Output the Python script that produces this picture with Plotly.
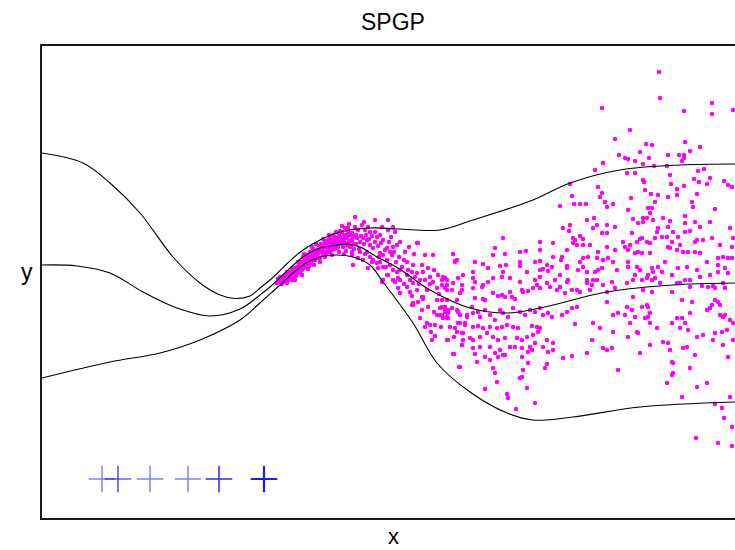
import plotly.graph_objects as go

# ---------------- data (arbitrary units, no ticks shown) ----------------
# predictive mean and +/- 2 std curves
curve_x_upper = [0.00, 0.41, 0.68, 0.98, 1.31, 1.58, 1.78, 1.93, 2.08, 2.18, 2.28, 2.61, 2.95, 3.28, 3.56,
                 3.98, 4.31, 4.91, 5.28, 5.78, 6.38, 6.93]
curve_y_upper = [1.29, 1.19, 0.99, 0.69, 0.25, -0.01, -0.13, -0.165, -0.14, -0.06, 0.02, 0.32, 0.49, 0.54, 0.53,
                 0.52, 0.62, 0.82, 0.99, 1.12, 1.17, 1.18]

curve_x_mean = [0.00, 0.35, 0.68, 1.01, 1.35, 1.68, 1.98, 2.18, 2.28, 2.61, 2.78, 2.95, 3.05, 3.18, 3.35,
                3.56, 3.88, 4.28, 4.65, 4.98, 5.65, 6.31, 6.93]
curve_y_mean = [0.17, 0.16, 0.09, -0.10, -0.26, -0.34, -0.27, -0.13, -0.05, 0.25, 0.34, 0.37, 0.38, 0.35, 0.25,
                0.14, -0.08, -0.26, -0.31, -0.26, -0.10, -0.03, -0.01]

curve_x_lower = [0.00, 0.68, 1.18, 1.58, 1.98, 2.18, 2.38, 2.61, 2.78, 2.95, 3.11, 3.28, 3.41, 3.71, 3.95,
                 4.28, 4.65, 4.91, 5.31, 5.98, 6.93]
curve_y_lower = [-0.96, -0.80, -0.71, -0.58, -0.38, -0.21, -0.03, 0.17, 0.25, 0.27, 0.25, 0.17, 0.00, -0.41, -0.81,
                 -1.10, -1.31, -1.38, -1.35, -1.25, -1.20]

# pseudo-input locations (blue crosses) and their shading
pseudo_x = [0.60, 0.76, 1.08, 1.46, 1.77, 2.22]
pseudo_y = [-1.97, -1.97, -1.97, -1.97, -1.97, -1.97]
pseudo_color = ["rgba(0,0,255,0.5)", "rgba(0,0,255,0.9)", "rgba(0,0,255,0.5)",
                "rgba(0,0,255,0.5)", "rgba(0,0,255,0.85)", "rgba(0,0,255,0.9)"]
pseudo_lw = [1.5, 1.2, 1.5, 1.5, 1.5, 2.2]

# observed training data (magenta dots)
observations = [
    (2.35, -0.01), (2.38, 0.02), (2.41, 0.05), (2.45, 0.07), (2.48, 0.10), (2.51, 0.12), (2.55, 0.15), (2.58, 0.19),
    (2.61, 0.20), (2.65, 0.24), (2.66, 0.27), (2.68, 0.30), (2.71, 0.29), (2.75, 0.32), (2.78, 0.34), (2.81, 0.37),
    (2.85, 0.39), (2.88, 0.40), (2.91, 0.42), (2.95, 0.44), (2.98, 0.45), (3.00, 0.50), (3.03, 0.54), (3.06, 0.54),
    (3.08, 0.47), (3.10, 0.42), (3.13, 0.65), (3.05, 0.37), (3.01, 0.35), (2.95, 0.34), (2.90, 0.32), (2.85, 0.30),
    (2.81, 0.27), (2.76, 0.24), (2.71, 0.22), (2.68, 0.19), (2.63, 0.15), (2.60, 0.12), (2.55, 0.09), (2.50, 0.05),
    (2.46, 0.02), (2.43, 0.00), (2.40, -0.02),
    (2.37, 0.00), (2.39, 0.04), (2.42, 0.03), (2.44, 0.06), (2.47, 0.04), (2.49, 0.08), (2.52, 0.09), (2.53, 0.14),
    (2.56, 0.12), (2.57, 0.17), (2.59, 0.15), (2.62, 0.18), (2.63, 0.22), (2.64, 0.19), (2.66, 0.21), (2.67, 0.25),
    (2.69, 0.23), (2.70, 0.27), (2.72, 0.25), (2.73, 0.31), (2.74, 0.28), (2.76, 0.29), (2.77, 0.36), (2.79, 0.31),
    (2.80, 0.33), (2.82, 0.34), (2.83, 0.40), (2.84, 0.36), (2.86, 0.35), (2.87, 0.43), (2.89, 0.37), (2.90, 0.39),
    (2.92, 0.36), (2.93, 0.45), (2.94, 0.40), (2.96, 0.38), (2.97, 0.48), (2.99, 0.41), (3.00, 0.38), (3.02, 0.43),
    (3.04, 0.47), (3.07, 0.40), (3.09, 0.36), (3.11, 0.45), (3.12, 0.33), (2.88, 0.30), (2.84, 0.28), (2.92, 0.33),
    (2.58, 0.10), (2.45, -0.01), (2.36, 0.03), (2.61, 0.25), (2.79, 0.38), (3.01, 0.42),
    (2.38, 0.05), (2.41, 0.00), (2.44, 0.03), (2.47, 0.07), (2.50, 0.02), (2.52, 0.12), (2.54, 0.06), (2.57, 0.10),
    (2.59, 0.20), (2.61, 0.14), (2.63, 0.17), (2.65, 0.27), (2.67, 0.16), (2.69, 0.20), (2.71, 0.33), (2.73, 0.22),
    (2.75, 0.26), (2.77, 0.30), (2.78, 0.24), (2.80, 0.37), (2.82, 0.30), (2.84, 0.41), (2.86, 0.32), (2.88, 0.44),
    (2.89, 0.34), (2.91, 0.47), (2.93, 0.38), (2.95, 0.42), (2.96, 0.35), (2.98, 0.51), (3.02, 0.47), (3.03, 0.39),
    (3.05, 0.44), (3.06, 0.50), (3.08, 0.41), (3.10, 0.49), (3.12, 0.38), (3.14, 0.47), (3.16, 0.52), (3.19, 0.46),
    (3.22, 0.38), (3.24, 0.47), (3.27, 0.43), (3.30, 0.46), (3.33, 0.40), (3.36, 0.36), (3.39, 0.39), (3.43, 0.32),
    (3.47, 0.40), (3.52, 0.30), (3.57, 0.25), (3.62, 0.22), (3.60, 0.15), (3.66, 0.12), (3.68, 0.02), (3.73, 0.05),
    (3.77, -0.02), (3.83, 0.02), (3.88, -0.02), (3.92, 0.12), (3.97, -0.12), (3.62, -0.02), (3.70, -0.14),
    (3.76, -0.20), (3.86, -0.25), (3.92, -0.30), (3.78, -0.36), (3.89, -0.50), (3.99, -0.45), (4.08, -0.45),
    (4.12, -0.55),
    (2.45, 0.10), (2.50, 0.14), (2.53, 0.02), (2.56, 0.20), (2.60, 0.07), (2.62, 0.28), (2.66, 0.13), (2.70, 0.35),
    (2.72, 0.17), (2.74, 0.38), (2.78, 0.20), (2.81, 0.43), (2.83, 0.25), (2.87, 0.47), (2.90, 0.27), (2.94, 0.50),
    (2.97, 0.30), (3.00, 0.56), (3.04, 0.31), (3.07, 0.58), (3.10, 0.30), (3.13, 0.55), (3.17, 0.33), (3.20, 0.57),
    (3.23, 0.28), (3.26, 0.55), (3.30, 0.20), (3.33, 0.50), (3.37, 0.25), (3.40, 0.55), (3.44, 0.15), (3.49, 0.45),
    (3.54, 0.20), (3.58, 0.40), (3.63, 0.30), (3.67, 0.35), (3.72, 0.28), (3.18, 0.30), (3.02, 0.28), (3.22, 0.60),
    (3.33, 0.62), (3.14, 0.38),
    (3.15, 0.44), (3.18, 0.40), (3.21, 0.44), (3.25, 0.42), (3.28, 0.37), (3.31, 0.34), (3.28, 0.50), (3.35, 0.45),
    (3.38, 0.47), (3.41, 0.42), (3.45, 0.34), (3.48, 0.30), (3.51, 0.35), (3.55, 0.37), (3.46, 0.62), (3.46, 0.52),
    (3.53, 0.50), (3.25, 0.30), (3.28, 0.25), (3.31, 0.22), (3.35, 0.19), (3.38, 0.20), (3.41, 0.27), (3.45, 0.22),
    (3.48, 0.17), (3.51, 0.12), (3.55, 0.10), (3.41, 0.15), (3.36, 0.14), (3.26, 0.14), (3.11, 0.17), (3.23, 0.52),
    (3.10, 0.27), (3.16, 0.24), (3.21, 0.22), (3.08, 0.35), (3.38, 0.29), (3.50, 0.27), (3.45, 0.07), (3.53, 0.00),
    (3.56, 0.04), (3.41, 0.02),
    (3.75, 0.39), (3.76, 0.39), (3.83, 0.27), (3.91, 0.27), (4.11, 0.28), (4.13, 0.21), (3.65, 0.20), (3.71, 0.17),
    (3.80, 0.17), (3.86, 0.14), (3.58, 0.12), (3.65, 0.07), (3.70, 0.10), (3.75, 0.09), (3.81, 0.10), (3.88, 0.05),
    (3.96, 0.07), (4.00, 0.02), (4.03, 0.04), (3.91, 0.00), (3.78, 0.02), (3.71, -0.01), (3.65, -0.05), (3.58, 0.02),
    (3.51, 0.02), (3.46, 0.07), (3.56, -0.06), (3.75, -0.08), (3.85, -0.08), (3.95, -0.06), (4.05, -0.08),
    (3.81, -0.15), (3.71, -0.23), (3.95, -0.18), (4.00, -0.25), (4.03, -0.30), (3.98, -0.33), (4.10, -0.26),
    (4.15, -0.18), (4.05, -0.03), (4.16, 0.04), (3.51, 0.55), (3.40, 0.00),
    (3.58, -0.11), (3.68, -0.10), (3.80, -0.15), (3.81, -0.17), (3.71, -0.21), (3.70, -0.23), (3.80, -0.28),
    (3.85, -0.41), (3.88, -0.43), (3.83, -0.45), (3.93, -0.43), (3.95, -0.33), (3.98, -0.26), (4.03, -0.28),
    (4.05, -0.36), (3.90, -0.58), (3.93, -0.54), (4.06, -0.58), (4.13, -0.46), (4.18, -0.41), (4.16, -0.30),
    (4.20, -0.51), (4.21, -0.58), (4.20, -0.63), (4.12, -0.72), (4.17, -0.85), (4.23, -0.41), (4.25, -0.33),
    (5.18, 0.76), (5.32, 0.78), (5.38, 0.78), (5.44, 0.78), (5.45, 0.62), (5.52, 0.64), (5.51, 0.54), (5.55, 0.57),
    (5.21, 0.54), (5.28, 0.57), (5.27, 0.51), (5.31, 0.44), (5.33, 0.42), (5.38, 0.46), (5.41, 0.43), (5.31, 0.39),
    (5.35, 0.37), (5.48, 0.37), (5.56, 0.30), (5.55, 0.24), (5.56, 0.12), (5.53, 0.10), (5.55, 0.02), (5.50, -0.03),
    (5.45, 0.02),
    (4.98, 0.40), (5.11, 0.39), (4.98, 0.32), (4.84, 0.31), (4.63, 0.28), (4.51, 0.27), (4.53, 0.34), (4.61, 0.44),
    (4.13, 0.20), (4.15, 0.22), (4.33, 0.20), (4.41, 0.18), (4.46, 0.14), (4.58, 0.16), (4.64, 0.17), (4.78, 0.20),
    (4.78, 0.16), (4.93, 0.20), (4.98, 0.21), (5.01, 0.13), (5.05, 0.17), (5.06, 0.11), (5.10, 0.15), (5.11, 0.25),
    (5.20, 0.25), (5.19, 0.22), (5.25, 0.16), (5.25, 0.14), (5.38, 0.20), (5.41, 0.24), (5.46, 0.25), (5.41, 0.15),
    (5.45, 0.10), (5.36, 0.12), (5.26, 0.02), (5.35, -0.08), (5.38, -0.10), (5.48, -0.08), (5.45, -0.01),
    (5.51, 0.02),
    (4.01, 0.05), (4.05, 0.02), (4.00, -0.03), (4.03, -0.06), (4.10, -0.08), (4.11, -0.01), (4.20, -0.03),
    (4.20, -0.08), (4.18, -0.11), (4.31, 0.04), (4.33, 0.00), (4.31, -0.06), (4.41, -0.03), (4.40, -0.05),
    (4.46, 0.00), (4.33, -0.16), (4.41, -0.17), (4.43, -0.18), (4.51, -0.11), (4.56, -0.14), (4.60, -0.13),
    (4.63, -0.15), (4.68, -0.10), (4.70, -0.15), (4.73, -0.17), (4.80, -0.08), (4.81, -0.10), (4.86, -0.09),
    (4.91, -0.06), (4.95, -0.03), (4.98, -0.06), (5.05, -0.01), (5.08, -0.05), (5.15, -0.08), (5.18, -0.05),
    (5.25, 0.00), (5.23, -0.11), (5.30, -0.08),
    (4.03, -0.25), (4.06, -0.31), (4.15, -0.28), (4.18, -0.33), (4.25, -0.35), (4.30, -0.25), (4.31, -0.31),
    (4.36, -0.30), (4.38, -0.35), (4.43, -0.28), (4.48, -0.33), (4.53, -0.38), (4.58, -0.28), (4.61, -0.31),
    (4.66, -0.35), (4.71, -0.26), (4.78, -0.30), (4.83, -0.33), (4.88, -0.28), (4.93, -0.30), (4.98, -0.26),
    (5.01, -0.33), (5.06, -0.31), (5.10, -0.35), (5.20, -0.33), (5.25, -0.30), (5.30, -0.26), (5.35, -0.25),
    (4.16, -0.41), (4.23, -0.43), (4.31, -0.45), (4.36, -0.44), (4.41, -0.46), (4.48, -0.45), (4.55, -0.46),
    (4.60, -0.45), (4.65, -0.43), (4.71, -0.45), (4.76, -0.46), (4.90, -0.44), (4.95, -0.45), (4.98, -0.46),
    (4.15, -0.50), (4.21, -0.51), (4.28, -0.56), (4.31, -0.58), (4.38, -0.55), (4.45, -0.51), (4.51, -0.55),
    (4.56, -0.58), (4.63, -0.56), (4.68, -0.65), (4.75, -0.56), (4.80, -0.58), (4.85, -0.55), (4.91, -0.53),
    (4.96, -0.50), (5.05, -0.58), (5.11, -0.61), (4.05, -0.58), (4.20, -0.63), (4.31, -0.66), (4.38, -0.65),
    (4.48, -0.65), (4.53, -0.71), (4.58, -0.68), (4.61, -0.73), (4.73, -0.65), (4.80, -0.66), (4.88, -0.65),
    (4.93, -0.61), (5.01, -0.65), (5.06, -0.70), (5.11, -0.68), (4.11, -0.72), (4.33, -0.72), (4.43, -0.75),
    (4.48, -0.78), (4.56, -0.75), (4.63, -0.73), (4.80, -0.75), (4.86, -0.70), (4.90, -0.68), (4.18, -0.85),
    (4.35, -0.80), (4.51, -0.86), (4.53, -0.91), (4.81, -0.88), (4.86, -0.81), (5.03, -0.86), (5.05, -0.82),
    (4.78, -0.96), (4.80, -0.95), (4.55, -1.00), (4.43, -1.07), (4.65, -1.12), (4.66, -1.16), (4.85, -1.06),
    (4.93, -1.21), (4.74, -1.27), (5.21, -0.76), (5.30, -0.74), (5.45, -0.71), (5.50, -0.58), (5.51, -0.41),
    (5.33, -0.42),
    (4.68, 0.04), (4.78, 0.00), (4.60, 0.05), (4.51, 0.04), (4.93, 0.02), (4.98, 0.05), (5.13, 0.02), (5.18, 0.07),
    (4.98, 0.12), (4.85, 0.10), (4.61, 0.10), (4.31, 0.10), (4.21, 0.07), (4.78, 0.30), (5.25, 0.32), (5.41, 0.37),
    (4.00, -0.18), (4.05, -0.35), (4.00, -0.33), (4.06, -0.28), (4.05, -0.18), (4.01, -0.36), (4.06, -0.36),
    (5.63, 0.80), (5.71, 0.78), (5.65, 0.75), (5.86, 0.72), (6.06, 0.74), (6.10, 0.74), (6.08, 0.69), (6.13, 0.80),
    (6.50, 0.80), (6.51, 0.75), (6.73, 0.73), (5.91, 0.63), (5.96, 0.59), (6.01, 0.64), (6.01, 0.60), (6.05, 0.64),
    (6.11, 0.62), (6.21, 0.64), (6.28, 0.61), (6.43, 0.66), (6.43, 0.59), (6.53, 0.60), (6.58, 0.55), (6.68, 0.60),
    (6.88, 0.54), (5.65, 0.57), (5.73, 0.55), (5.60, 0.49), (5.65, 0.49), (5.90, 0.49), (6.16, 0.54), (6.15, 0.50),
    (6.26, 0.55), (6.31, 0.50), (6.36, 0.45), (6.43, 0.50), (6.48, 0.51), (6.55, 0.42), (6.53, 0.40), (6.61, 0.42),
    (6.70, 0.44), (6.78, 0.37), (6.90, 0.35), (6.91, 0.44), (5.81, 0.40), (5.83, 0.35), (5.86, 0.32), (5.88, 0.37),
    (5.95, 0.40), (5.98, 0.43), (6.00, 0.44), (6.05, 0.40), (6.08, 0.39), (6.13, 0.44), (6.20, 0.45), (6.25, 0.45),
    (6.30, 0.40), (6.26, 0.35), (6.28, 0.34), (6.35, 0.32), (6.38, 0.37), (6.41, 0.30), (6.46, 0.30), (6.53, 0.30),
    (6.58, 0.29), (6.65, 0.20), (6.76, 0.24), (6.81, 0.25), (6.86, 0.24), (6.90, 0.24), (5.65, 0.35), (5.66, 0.24),
    (5.71, 0.20), (5.73, 0.32), (5.61, 0.22), (5.60, 0.14), (5.75, 0.12), (5.86, 0.20), (5.86, 0.15), (5.93, 0.29),
    (5.96, 0.30), (6.00, 0.29), (5.95, 0.15), (5.98, 0.12), (6.08, 0.29), (6.10, 0.14), (6.11, 0.10), (6.06, 0.07),
    (6.10, 0.02), (6.13, 0.04), (6.16, 0.15), (6.20, 0.10), (6.23, 0.20), (6.30, 0.07), (6.36, 0.14), (6.45, 0.15),
    (6.48, 0.02), (6.55, 0.12), (6.58, 0.05), (6.68, 0.07), (6.76, 0.17), (6.76, 0.10), (6.83, 0.14), (6.86, 0.09),
    (5.61, -0.03), (5.65, -0.10), (5.70, 0.00), (5.73, -0.06), (5.85, -0.01), (5.91, 0.02), (5.93, 0.07),
    (6.00, 0.02), (6.05, 0.04), (6.01, -0.08), (6.10, -0.10), (6.18, -0.01), (6.30, -0.10), (6.35, -0.01),
    (6.38, -0.01), (6.43, 0.02), (6.48, -0.05), (6.60, -0.04), (6.66, -0.05), (6.71, -0.04), (6.73, -0.06),
    (6.81, -0.01), (6.83, -0.06), (5.65, -0.20), (5.85, -0.25), (5.90, -0.28), (5.91, -0.15), (6.00, -0.25),
    (6.05, -0.23), (6.06, -0.25), (6.08, -0.31), (6.06, -0.35), (6.03, -0.36), (5.93, -0.35), (5.83, -0.33),
    (5.76, -0.31), (5.71, -0.33), (5.58, -0.46), (5.71, -0.50), (5.88, -0.41), (5.96, -0.51), (6.08, -0.41),
    (6.15, -0.46), (6.21, -0.60), (6.26, -0.61), (6.30, -0.41), (6.35, -0.36), (6.40, -0.36), (6.43, -0.41),
    (6.38, -0.46), (6.46, -0.48), (6.48, -0.31), (6.50, -0.20), (6.40, -0.18), (6.55, -0.55), (6.61, -0.53),
    (6.65, -0.28), (6.68, -0.26), (6.70, -0.23), (6.73, -0.18), (6.76, -0.20), (6.78, -0.23), (6.78, -0.33),
    (6.81, -0.35), (6.83, -0.33), (6.85, -0.48), (6.88, -0.38), (6.91, -0.41), (6.73, -0.51), (6.71, -0.58),
    (6.91, -0.58), (6.81, -0.63), (6.86, -0.75), (5.61, -0.66), (5.65, -0.68), (5.70, -0.66), (5.98, -0.71),
    (6.08, -0.63), (6.28, -0.68), (6.30, -0.80), (6.31, -0.81), (6.31, -0.91), (6.30, -0.93), (6.45, -0.65),
    (6.41, -0.66), (6.53, -0.73), (6.48, -0.86), (5.76, -0.88), (6.25, -1.01), (6.40, -1.15), (6.55, -1.05),
    (6.65, -1.01), (6.88, -1.15), (6.80, -0.50), (5.86, -0.55), (5.95, -0.50),
    (6.73, -1.22), (6.80, -1.26), (6.82, -1.36), (6.90, -1.45), (6.54, -1.56), (6.76, -1.61), (6.90, -1.64),
    (6.17, 2.10), (6.18, 1.84), (5.60, 1.74), (6.70, 1.79), (6.42, 1.71), (6.70, 1.68), (6.91, 1.72), (5.88, 1.52),
    (5.73, 1.43), (6.04, 1.38), (6.10, 1.37), (6.43, 1.40), (6.58, 1.35), (6.48, 1.31), (5.98, 1.30), (5.77, 1.27),
    (5.83, 1.24), (5.86, 1.23), (5.93, 1.21), (6.07, 1.24), (6.26, 1.27), (6.37, 1.27), (6.42, 1.27), (6.42, 1.24),
    (6.40, 1.21), (5.61, 1.19), (6.01, 1.18), (6.12, 1.16), (6.25, 1.16), (5.53, 1.12), (5.85, 1.09), (5.93, 1.09),
    (6.56, 1.11), (6.62, 1.13), (6.28, 1.07), (5.28, 0.98), (6.01, 1.02), (6.02, 1.00), (6.52, 1.03), (6.68, 1.04),
    (6.57, 1.00), (6.65, 0.98), (6.82, 1.01), (6.86, 0.97), (6.90, 0.95), (6.29, 0.98), (6.42, 0.96), (6.35, 0.93),
    (5.56, 0.95), (6.03, 0.92), (5.30, 0.86), (5.58, 0.85), (5.60, 0.89), (5.89, 0.84), (6.09, 0.88), (6.16, 0.87),
    (6.26, 0.85), (6.35, 0.87), (6.55, 0.88),
]
obs_x = [p[0] for p in observations]
obs_y = [p[1] for p in observations]

# ---------------- figure ----------------
fig = go.Figure()

fig.add_trace(go.Scatter(x=obs_x, y=obs_y, mode="markers",
                         marker=dict(color="#ff00ff", size=4.5, line=dict(width=0)),
                         showlegend=False, hoverinfo="skip"))

for cx, cy in [(curve_x_upper, curve_y_upper), (curve_x_mean, curve_y_mean), (curve_x_lower, curve_y_lower)]:
    fig.add_trace(go.Scatter(x=cx, y=cy, mode="lines",
                             line=dict(color="black", width=1.1, shape="spline", smoothing=1.0),
                             showlegend=False, hoverinfo="skip"))

fig.add_trace(go.Scatter(x=pseudo_x, y=pseudo_y, mode="markers",
                         marker=dict(symbol="cross-thin", size=19, color=pseudo_color,
                                     line=dict(color=pseudo_color, width=pseudo_lw)),
                         showlegend=False, hoverinfo="skip"))

font_family = "Liberation Sans, Arial, Helvetica, sans-serif"

fig.update_layout(
    width=735, height=550,
    margin=dict(l=42, r=0, t=46, b=32),
    paper_bgcolor="white", plot_bgcolor="white",
    font=dict(family=font_family, color="black"),
    xaxis=dict(range=[0, 6.93], showgrid=False, zeroline=False, showticklabels=False, ticks="",
               showline=True, linecolor="#1a1a1a", linewidth=1.5, mirror=True),
    yaxis=dict(range=[-2.36, 2.36], showgrid=False, zeroline=False, showticklabels=False, ticks="",
               showline=True, linecolor="#1a1a1a", linewidth=1.5, mirror=False),
    annotations=[
        dict(text="SPGP", xref="paper", yref="paper", x=0.5065, y=1.0508, showarrow=False,
             xanchor="center", yanchor="middle", font=dict(size=23, family=font_family, color="black")),
        dict(text="x", xref="paper", yref="paper", x=0.5065, y=-0.0678, showarrow=False,
             xanchor="center", yanchor="bottom", borderpad=0,
             font=dict(size=22, family=font_family, color="black")),
        dict(text="y", xref="paper", yref="paper", x=-0.0216, y=0.521, showarrow=False,
             xanchor="center", yanchor="middle", font=dict(size=23, family=font_family, color="black")),
    ],
)

fig.write_html("out.html")
